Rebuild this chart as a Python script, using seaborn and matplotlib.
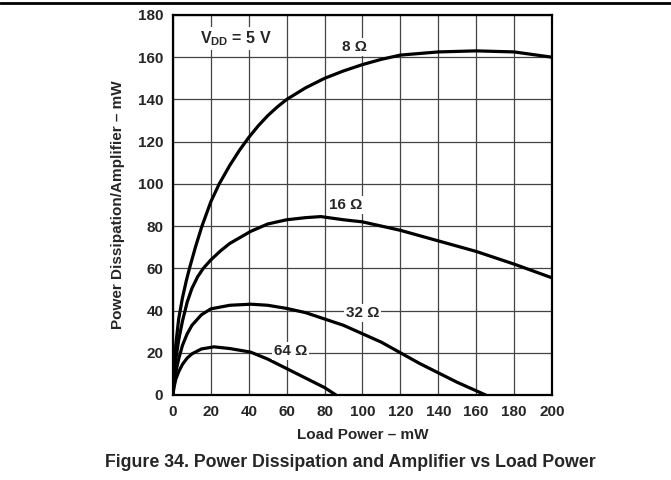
import pandas as pd
import seaborn as sns
import matplotlib.pyplot as plt
from matplotlib.lines import Line2D

# curves (load power mW -> dissipation mW)
x_8 = [0, 0.5, 1.5, 3, 5, 7, 8.7, 12, 15.3, 20, 24.4, 30, 35, 40, 45, 50, 55, 60, 70, 80, 90, 100, 110, 120, 140, 160, 180, 200]
y_8 = [0, 12, 24, 36, 46, 54, 60, 70.5, 80, 91.6, 100, 108.8, 115.8, 122, 127.5, 132.3, 136.4, 140, 145.5, 150, 153.5, 156.5, 159, 161, 162.5, 163, 162.5, 160]

x_16 = [0, 0.5, 1.5, 3, 5, 7.5, 10, 13, 16, 20, 25, 30, 41, 50, 60, 70, 78, 90, 100, 120, 140, 160, 180, 200]
y_16 = [0, 8, 17, 26, 35, 44, 50.5, 56, 60, 64, 68.2, 71.8, 77.5, 81, 83, 84, 84.5, 83, 82, 78, 73, 68, 62, 55.5]

x_32 = [0, 0.5, 1.5, 3, 5, 7.5, 10, 15, 20, 30, 41, 50, 60, 70, 80, 90, 100, 110, 120, 130, 140, 150, 160, 165]
y_32 = [0, 5, 11, 17, 23.5, 29, 33, 38, 40.8, 42.5, 43, 42.5, 41, 39, 36, 33, 29, 25, 20, 15, 10.5, 6, 2, 0]

x_64 = [0, 0.5, 1.5, 3, 5, 7.5, 10, 15, 21.6, 30, 41, 50, 60, 70, 80, 86]
y_64 = [0, 3.5, 7.5, 11, 14.5, 17.5, 19.5, 21.8, 22.8, 22, 20.3, 17, 12.5, 8, 3.5, 0]

curve_names = ['8 Ω', '16 Ω', '32 Ω', '64 Ω']
label_pos = [(96, 165), (91, 90), (100, 39), (62, 21)]

frames = []
for name, xs, ys in zip(curve_names, [x_8, x_16, x_32, x_64], [y_8, y_16, y_32, y_64]):
    frames.append(pd.DataFrame({'load': xs, 'diss': ys, 'rl': name}))
df = pd.concat(frames, ignore_index=True)

sns.set_style('white')
plt.rcParams['font.family'] = ['Liberation Sans', 'DejaVu Sans']
plt.rcParams['font.weight'] = 'bold'
plt.rcParams['mathtext.fontset'] = 'custom'
plt.rcParams['mathtext.rm'] = 'Liberation Sans:bold'
plt.rcParams['mathtext.it'] = 'Liberation Sans:bold'
plt.rcParams['mathtext.bf'] = 'Liberation Sans:bold'

fig = plt.figure(figsize=(6.71, 4.8), dpi=100)
ax = fig.add_axes([0.2578, 0.1771, 0.5648, 0.7917])

sns.lineplot(data=df, x='load', y='diss', units='rl', estimator=None, sort=False,
             color='black', linewidth=2.3, ax=ax, legend=False)

ax.set_xlim(0, 200)
ax.set_ylim(0, 180)
ax.set_xticks(range(0, 201, 20))
ax.set_yticks(range(0, 181, 20))
ax.grid(True, color='#444444', linewidth=0.9)
ax.set_axisbelow(True)
for s in ax.spines.values():
    s.set_visible(True)
    s.set_color('black')
    s.set_linewidth(1.6)
ax.tick_params(length=0, labelsize=11, pad=7)
for lab in ax.get_xticklabels() + ax.get_yticklabels():
    lab.set_fontweight('bold')

ax.set_xlabel('Load Power – mW', fontsize=11, fontweight='bold', labelpad=7)
ax.set_ylabel('Power Dissipation/Amplifier – mW', fontsize=11, fontweight='bold', labelpad=9)

for name, (lx, ly) in zip(curve_names, label_pos):
    ax.text(lx, ly, name, fontsize=11, fontweight='bold', ha='center', va='center',
            bbox=dict(facecolor='white', edgecolor='none', pad=1.5), zorder=5)

ax.text(33, 169, r'$\mathregular{V_{DD}}$ = 5 V', fontsize=11.5, fontweight='bold',
        ha='center', va='center', bbox=dict(facecolor='white', edgecolor='none', pad=1.5), zorder=5)

fig.text(0.522, 0.037, 'Figure 34. Power Dissipation and Amplifier vs Load Power',
         ha='center', va='center', fontsize=12.8, fontweight='bold')
fig.add_artist(Line2D([0, 1], [0.994, 0.994], color='black', linewidth=2, transform=fig.transFigure))

fig.savefig('out.png', dpi=100)
